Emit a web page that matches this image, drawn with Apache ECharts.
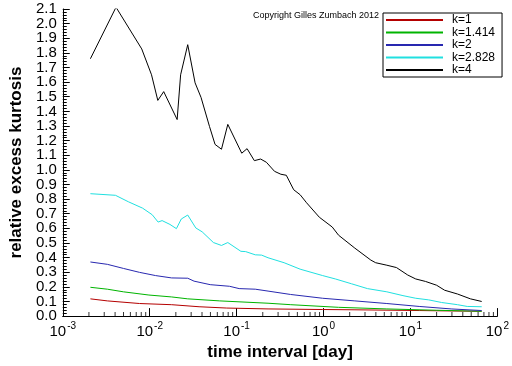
<!DOCTYPE html>
<html>
<head>
<meta charset="utf-8">
<script src="https://cdn.jsdelivr.net/npm/echarts@6/dist/echarts.min.js"></script>
<style>
html,body{margin:0;padding:0;background:#fff;}
#c{width:512px;height:366px;}
</style>
</head>
<body>
<div id="c"></div>
<script>
// Series data: [time interval (day), relative excess kurtosis]
var k1 = [[0.00208,0.118],[0.00326,0.104],[0.00765,0.086],[0.0179,0.078],[0.037,0.064],[0.077,0.055],[0.23,0.049],[0.98,0.045],[2.3,0.043],[12.6,0.038],[30,0.035],[66,0.033]];
var k1414 = [[0.00208,0.197],[0.00326,0.184],[0.00499,0.166],[0.0098,0.144],[0.0179,0.131],[0.0274,0.118],[0.064,0.104],[0.23,0.088],[0.42,0.078],[1.49,0.060],[5.35,0.049],[20,0.040],[66,0.033]];
var k2 = [[0.00208,0.370],[0.00326,0.354],[0.00499,0.326],[0.00765,0.299],[0.0117,0.277],[0.0179,0.261],[0.0274,0.259],[0.0324,0.239],[0.0497,0.215],[0.0828,0.204],[0.107,0.188],[0.164,0.184],[0.23,0.171],[0.417,0.148],[0.977,0.122],[2.29,0.104],[5.35,0.086],[12.6,0.066],[29.4,0.049],[66,0.038]];
var k2828 = [[0.00208,0.837],[0.00404,0.826],[0.00568,0.782],[0.0083,0.738],[0.0107,0.693],[0.0125,0.643],[0.0139,0.653],[0.0171,0.627],[0.0203,0.598],[0.0231,0.664],[0.0274,0.691],[0.0339,0.603],[0.0402,0.576],[0.0541,0.503],[0.067,0.483],[0.0792,0.503],[0.112,0.443],[0.127,0.441],[0.164,0.419],[0.194,0.417],[0.23,0.399],[0.352,0.365],[0.538,0.321],[0.977,0.277],[1.37,0.254],[2.1,0.221],[3.2,0.188],[5.35,0.166],[8.2,0.140],[11.5,0.122],[16.2,0.111],[22.8,0.093],[34.8,0.078],[45,0.066],[66,0.064]];
var k4 = [[0.00208,1.76],[0.0041,2.112],[0.0081,1.827],[0.0105,1.65],[0.0124,1.475],[0.0145,1.535],[0.0207,1.344],[0.0227,1.65],[0.0274,1.856],[0.0333,1.595],[0.039,1.495],[0.0488,1.296],[0.0565,1.174],[0.067,1.141],[0.0792,1.311],[0.1146,1.114],[0.132,1.145],[0.16,1.063],[0.189,1.074],[0.22,1.052],[0.273,0.99],[0.323,0.97],[0.373,0.963],[0.454,0.864],[0.538,0.83],[0.638,0.775],[0.895,0.676],[1.26,0.609],[1.49,0.553],[2.29,0.465],[3.5,0.383],[3.98,0.365],[5.35,0.348],[6.9,0.332],[9.3,0.281],[11.5,0.254],[14.9,0.237],[20,0.211],[24.7,0.177],[34.8,0.151],[49,0.118],[66,0.10]];
var seriesNames = ['k=1','k=1.414','k=2','k=2.828','k=4'];
var seriesColors = ['#b40000','#00b400','#2828b0','#20e0e0','#000000'];
var xTickLabels = ['10^-3','10^-2','10^-1','10^0','10^1','10^2'];
var yMin = 0, yMax = 2.1, yStep = 0.1;

// minor tick positions of the log x axis (2..9 x 10^k)
var minorTicks = [];
for (var e = -3; e < 2; e++) {
  for (var m = 2; m <= 9; m++) minorTicks.push([m * Math.pow(10, e), 0]);
}

var chart = echarts.init(document.getElementById('c'), null, {renderer:'canvas'});
var allData = [k1, k1414, k2, k2828, k4];
var series = allData.map(function(d, i){
  return {
    name: seriesNames[i], type:'line', data:d, showSymbol:false, symbol:'none',
    lineStyle:{color:seriesColors[i], width:1}, itemStyle:{color:seriesColors[i]},
    z: 3 + i, animation:false
  };
});
series.push({
  type:'scatter', data:minorTicks, symbol:'rect', symbolSize:[1,4], symbolOffset:[0,-2],
  itemStyle:{color:'#000'}, silent:true, animation:false, clip:false, z:20
});

var yLabelFont = {color:'#000', margin:6, fontFamily:'Liberation Sans', fontSize:15};

chart.setOption({
  backgroundColor:'#fff',
  animation:false,
  grid:{left:47, right:14, top:9, bottom:41, containLabel:false},
  xAxis:{
    type:'log', logBase:10, min:0.001, max:100,
    name:'time interval [day]', nameLocation:'middle', nameGap:20,
    nameTextStyle:{fontFamily:'Liberation Sans', fontSize:17, fontWeight:'bold', color:'#000', verticalAlign:'top'},
    axisLine:{show:true, lineStyle:{color:'#000', width:1}},
    axisTick:{show:true, inside:true, length:8, lineStyle:{color:'#000'}},
    splitLine:{show:false},
    axisLabel:{
      color:'#000', margin:5, showMinLabel:true, showMaxLabel:true,
      formatter:function(v){
        var ex = Math.round(Math.log10(v));
        var lbl = xTickLabels[ex + 3] || ('10^' + ex);
        var parts = lbl.split('^');
        return '{b|' + parts[0] + '}{s|' + parts[1] + '}';
      },
      rich:{
        b:{fontFamily:'Liberation Sans', fontSize:15, color:'#000', lineHeight:18, verticalAlign:'bottom'},
        s:{fontFamily:'Liberation Sans', fontSize:10, color:'#000', lineHeight:18, verticalAlign:'top', padding:[0,0,0,1]}
      }
    }
  },
  yAxis:[{
    type:'value', min:yMin, max:yMax, interval:yStep, position:'left',
    name:'relative excess kurtosis', nameLocation:'middle', nameGap:27,
    nameTextStyle:{fontFamily:'Liberation Sans', fontSize:17, fontWeight:'bold', color:'#000'},
    axisLine:{show:true, lineStyle:{color:'#000', width:1}},
    axisTick:{show:true, inside:true, length:7, lineStyle:{color:'#000'}},
    minorTick:{show:true, splitNumber:5, length:4, lineStyle:{color:'#000'}},
    splitLine:{show:false},
    axisLabel:Object.assign({showMinLabel:false, showMaxLabel:false,
      formatter:function(v){ return v.toFixed(1); }}, yLabelFont)
  },{
    // same scale, used only to show the end labels (0.0 and 2.1)
    type:'value', min:yMin, max:yMax, interval:yStep, position:'left', offset:0,
    axisLine:{show:false}, axisTick:{show:false}, splitLine:{show:false},
    axisLabel:Object.assign({showMinLabel:true, showMaxLabel:true,
      formatter:function(v){
        return (Math.abs(v - yMin) < 1e-9 || Math.abs(v - yMax) < 1e-9) ? v.toFixed(1) : '';
      }}, yLabelFont)
  }],
  legend:{
    data:seriesNames, orient:'vertical', left:383, top:13,
    itemWidth:57, itemHeight:12, itemGap:0.5,
    padding:[1,7,1,2],
    borderColor:'#000', borderWidth:1, backgroundColor:'#fff',
    itemStyle:{opacity:0, borderWidth:0},
    textStyle:{fontFamily:'Liberation Sans', fontSize:12, color:'#000', lineHeight:12, padding:[0,0,0,4]},
    selectedMode:false
  },
  graphic:[{
    type:'text', left:253, top:11,
    style:{text:'Copyright Gilles Zumbach 2012', fontFamily:'Liberation Sans', fontSize:9, fill:'#000'}
  }],
  series: series
});
</script>
</body>
</html>
